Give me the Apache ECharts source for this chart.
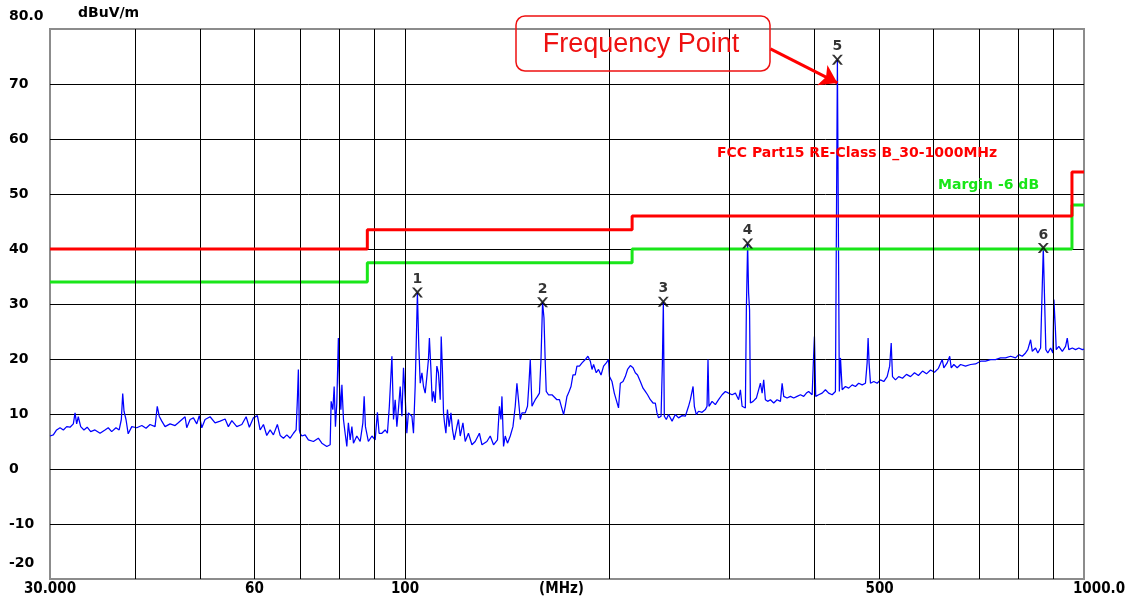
<!DOCTYPE html>
<html><head><meta charset="utf-8">
<script src="https://cdn.jsdelivr.net/npm/echarts@6/dist/echarts.min.js"></script>
<style>html,body{margin:0;padding:0;background:#fff}#c{width:1128px;height:603px}</style>
</head><body><div id="c"></div>
<script>
// ---- spectrum trace (MHz, dBuV/m) ----
const traceFreq = [30.00,30.34,30.68,31.04,31.39,31.75,32.11,32.47,32.66,32.84,33.02,33.29,33.66,34.03,34.44,34.94,35.55,36.15,36.55,36.98,37.52,37.93,38.21,38.39,38.56,38.82,39.11,39.59,40.26,40.96,41.55,42.12,42.84,43.16,43.45,43.83,44.32,45.08,45.85,46.35,
46.64,47.43,47.70,48.25,48.79,49.35,49.77,50.20,50.76,51.63,52.51,53.42,54.33,54.93,55.58,56.52,57.50,58.34,58.98,59.80,60.61,61.18,61.87,62.57,63.29,64.00,64.86,65.48,66.21,66.97,67.74,68.50,69.12,69.42,69.65,69.88,
70.07,70.48,71.26,72.05,73.30,74.53,75.42,76.70,77.58,77.84,78.29,78.64,78.98,79.35,79.77,80.03,80.45,80.73,81.16,81.62,82.09,82.52,83.03,83.51,83.96,84.92,85.89,86.68,87.06,87.44,88.31,89.38,90.37,91.06,91.58,92.45,93.48,94.20,94.82,95.65,96.17,96.72,97.27,97.78,98.38,98.95,99.48,100.05,100.62,101.15,102.36,102.91,103.50,103.85,104.29,104.78,
105.29,105.90,106.47,107.08,107.69,108.26,108.62,109.18,109.66,110.14,110.77,111.40,111.99,112.68,113.06,113.56,113.94,114.33,114.87,115.47,116.13,116.85,117.48,118.16,119.23,119.86,120.59,121.70,122.64,123.99,125.47,126.87,128.69,129.81,132.00,133.51,135.01,136.82,137.73,138.45,138.92,139.67,140.47,141.55,142.89,144.20,145.32,146.15,146.92,147.82,148.68,150.33,151.49,152.20,152.92,153.81,154.63,155.52,156.71,157.75,158.58,159.43,160.19,160.89,161.43,162.66,
164.61,165.49,167.39,168.83,169.89,171.21,172.19,173.17,174.08,175.57,176.76,178.13,179.14,180.68,182.25,184.28,185.95,187.45,188.54,189.55,191.27,192.74,194.39,196.09,197.88,199.39,200.05,201.77,203.34,204.70,206.27,207.54,209.45,211.07,212.69,214.70,216.68,218.35,220.02,222.11,224.15,225.89,227.62,229.78,231.89,233.69,235.02,236.26,238.28,239.33,240.13,240.94,242.56,244.41,247.34,250.09,252.84,255.88,258.72,261.57,
263.18,265.60,266.76,268.55,270.60,273.85,276.90,278.48,279.40,280.33,283.30,286.46,289.61,293.08,296.34,299.61,303.20,306.57,309.95,311.85,313.66,317.15,318.21,319.58,320.64,321.70,322.62,325.59,329.20,331.72,333.75,335.69,337.49,339.42,342.03,345.27,349.14,353.14,357.19,359.26,361.19,365.33,369.52,373.66,377.94,382.27,386.55,390.07,393.05,397.76,399.11,400.85,402.59,406.62,411.49,416.08,420.66,425.70,430.44,431.87,433.31,434.75,436.19,
437.85,440.39,445.29,450.20,455.59,460.66,465.73,471.32,476.57,479.28,480.88,482.47,484.77,490.20,495.82,501.50,507.12,512.93,517.35,520.06,522.34,527.63,533.44,540.37,547.67,555.24,562.79,570.34,578.32,586.13,594.24,602.32,610.40,618.32,621.64,628.77,634.18,637.50,643.09,650.47,657.92,669.10,680.63,692.20,704.12,716.09,728.43,740.81,753.57,766.38,779.58,792.83,801.56,811.17,820.20,826.49,834.33,839.17,848.51,855.02,863.13,866.93,871.07,874.87,878.67,884.54,892.92,899.88,902.92,907.21,910.24,918.10,929.10,939.44,944.80,949.79,961.17,971.88,982.58,994.34,1000];
const traceLevel = [6.0,6.2,7.1,7.5,7.1,7.7,7.6,8.2,10.2,8.2,9.5,7.7,7.1,7.6,6.8,7.1,6.5,7.1,7.5,6.8,7.5,7.1,9.0,13.7,10.5,9.0,6.4,7.7,7.5,7.9,7.4,8.1,7.7,11.4,9.6,8.7,7.7,8.2,7.9,8.4,
8.5,9.5,7.5,9.0,9.3,8.2,9.7,7.5,9.0,9.5,8.4,8.7,9.1,7.7,8.8,7.7,8.1,9.5,7.6,9.3,9.7,7.1,8.1,6.1,7.1,6.2,8.1,6.1,5.6,6.2,5.6,6.5,7.1,12.7,18.1,7.1,
6.5,6.0,6.2,5.3,5.0,5.6,4.7,4.1,4.4,12.3,10.8,15.0,7.7,12.0,23.8,15.6,10.8,15.3,9.0,6.5,4.1,8.4,5.3,7.7,4.7,6.0,5.0,8.4,13.2,7.7,5.0,6.0,5.3,10.3,6.5,6.5,7.1,6.5,11.4,20.5,9.0,12.6,7.7,10.8,15.0,9.6,18.4,13.2,6.5,10.2,9.6,6.5,15.0,22.3,32.1,22.3,
15.6,17.5,15.0,13.8,16.8,19.9,23.8,18.1,12.3,14.1,12.0,18.7,17.5,12.6,24.1,17.5,10.2,8.4,6.5,10.8,7.7,10.2,7.1,5.3,7.7,9.0,6.0,8.4,5.0,6.5,4.4,5.0,6.5,4.4,5.0,6.0,4.4,5.3,11.4,9.0,13.2,4.1,6.0,4.7,6.0,7.7,11.4,15.6,12.6,9.0,10.2,10.2,11.4,15.3,19.9,11.4,12.0,12.6,13.2,13.8,19.9,30.3,27.5,19.3,14.1,13.5,
13.5,13.2,12.6,12.6,11.4,9.9,11.4,13.2,13.8,15.0,17.1,17.1,18.7,18.7,19.3,19.9,20.5,19.6,18.1,19.0,17.5,18.1,17.1,18.7,19.3,19.9,16.8,15.9,13.8,14.1,11.1,15.6,15.9,16.8,18.1,18.8,18.4,17.5,17.1,15.9,14.7,14.1,13.5,12.6,12.0,12.0,10.2,9.3,9.6,19.0,30.4,9.6,9.0,9.9,8.7,9.9,9.3,9.7,9.6,11.4,
12.6,15.0,11.4,9.9,10.5,10.3,10.8,11.4,19.9,11.4,12.3,11.7,12.6,13.5,14.1,13.8,13.5,13.8,12.6,14.4,11.4,11.1,28.9,41.0,32.0,28.9,12.0,12.3,12.9,14.4,15.6,13.8,16.2,12.6,12.3,12.6,12.0,12.6,12.3,15.6,13.2,12.9,13.2,12.9,13.2,13.5,13.2,13.8,14.1,13.5,18.4,24.1,13.2,13.5,13.8,14.4,13.8,13.5,14.1,44.1,74.4,44.1,14.1,
20.2,14.4,15.0,14.7,15.3,15.0,15.6,15.3,15.6,19.3,23.8,19.3,15.6,15.9,15.6,16.2,15.9,16.8,18.7,22.9,16.8,16.2,16.8,16.5,17.2,16.8,17.5,17.0,17.8,17.3,18.0,17.6,18.3,19.9,18.4,19.3,20.5,18.4,19.0,18.4,19.0,18.7,19.0,19.1,19.6,19.6,19.9,19.9,20.2,20.2,20.5,20.2,20.8,20.5,21.1,21.7,23.5,21.4,22.0,21.1,22.0,30.8,40.2,30.8,21.7,21.1,22.0,21.1,30.8,25.9,21.7,22.3,21.4,22.3,23.8,21.7,22.0,21.7,22.0,21.7,21.8];

// ---- limits (FCC Part15 Class B) and margin ----
const limitFreq   = [30, 88, 88, 216, 216, 960, 960, 1000];
const limitLevel  = [40, 40, 43.5, 43.5, 46, 46, 54, 54];
const marginLevel = [34, 34, 37.5, 37.5, 40, 40, 48, 48];

// ---- marked peaks ----
const peakFreq  = [104.29, 159.43, 240.13, 319.58, 433.31, 871.07];
const peakLevel = [32.1, 30.3, 30.4, 41.0, 74.4, 40.2];
const peakLabel = ['1', '2', '3', '4', '5', '6'];

// ---- axes ----
const gridFreq  = [40, 50, 60, 70, 80, 90, 100, 200, 300, 400, 500, 600, 700, 800, 900];
const xTickFreq = [30, 60, 100, 170, 500, 1000];
const xTickText = ['30.000', '60', '100', '(MHz)', '500', '1000.0'];
const yMin = -20, yMax = 80, yStep = 10;

// arrow of "Frequency Point" (from box edge to peak 5)
const arrowFrom = [345.3, 76.4];
const arrowTo   = [433.31, 70.2];

const BOLD = "'DejaVu Sans', sans-serif";
const NARROW = "'Liberation Sans Narrow', 'DejaVu Sans Condensed', sans-serif";

const chart = echarts.init(document.getElementById('c'), null, {renderer: 'canvas'});
const zip = (a, b) => a.map((v, i) => [v, b[i]]);

const option = {
  animation: false,
  backgroundColor: '#fff',
  grid: {left: 50, right: 44, top: 29, bottom: 24, show: true, borderColor: '#8c8c8c', borderWidth: 2, backgroundColor: 'transparent'},
  xAxis: {type: 'log', logBase: 10, min: 30, max: 1000,
    axisLine: {show: false}, axisTick: {show: false}, axisLabel: {show: false}, splitLine: {show: false}},
  yAxis: {type: 'value', min: yMin, max: yMax, interval: yStep,
    axisLine: {show: false}, axisTick: {show: false},
    splitLine: {show: true, showMinLine: false, showMaxLine: false, lineStyle: {color: '#000', width: 1}},
    axisLabel: {show: true, showMinLabel: true, showMaxLabel: true, align: 'left', margin: 41,
      color: '#000', fontFamily: BOLD, fontWeight: 'bold', fontSize: 14,
      formatter: v => v === yMax ? '{t|80.0}' : (v === yMin ? '{b|' + v + '}' : String(v)),
      rich: {
        t: {padding: [0, 0, 25, 0], color: '#000', fontFamily: BOLD, fontWeight: 'bold', fontSize: 14},
        b: {padding: [0, 0, 32, 0], color: '#000', fontFamily: BOLD, fontWeight: 'bold', fontSize: 14}
      }}},
  series: [
    { // vertical grid lines
      type: 'line', z: 1, silent: true, data: [[30, yMin]], symbol: 'none', lineStyle: {opacity: 0},
      markLine: {silent: true, symbol: ['none', 'none'], animation: false,
        lineStyle: {color: '#000', width: 1, type: 'solid'},
        label: {show: false},
        emphasis: {disabled: true},
        data: gridFreq.map(f => ({xAxis: f}))}
    },
    { // x tick labels
      type: 'line', z: 1, silent: true, data: [[30, yMin]], symbol: 'none', lineStyle: {width: 0},
      markLine: {silent: true, symbol: ['none', 'none'], animation: false,
        lineStyle: {color: 'rgba(0,0,0,0)', width: 0, type: 'solid'},
        emphasis: {disabled: true},
        label: {show: true, position: 'start', distance: 3, formatter: '{b}', color: '#000',
          fontFamily: NARROW, fontWeight: 'bold', fontSize: 15},
        data: xTickFreq.map((f, i) => ({
          xAxis: f, name: xTickText[i],
          label: f === 1000 ? {padding: [0, 0, 0, 30]} : {}
        }))}
    },
    {
      type: 'line', name: 'trace', z: 3, data: zip(traceFreq, traceLevel), symbol: 'none',
      lineStyle: {color: '#0000ff', width: 1.25}, silent: true
    },
    {
      type: 'line', name: 'margin', z: 4, data: zip(limitFreq, marginLevel), symbol: 'none',
      lineStyle: {color: '#19e619', width: 3}, silent: true
    },
    {
      type: 'line', name: 'limit', z: 5, data: zip(limitFreq, limitLevel), symbol: 'none',
      lineStyle: {color: '#ff0000', width: 3}, silent: true,
      markLine: {silent: true, symbol: ['none', 'arrow'], symbolSize: 17,
        lineStyle: {color: '#ff0000', width: 3, type: 'solid'}, label: {show: false},
        data: [[{coord: arrowFrom}, {coord: arrowTo}]]}
    },
    {
      type: 'scatter', name: 'peaks', z: 6, data: zip(peakFreq, peakLevel),
      symbol: 'path://M0,0 L2.2,0 L5,3.4 L7.8,0 L10,0 L6.2,4.8 L10,10 L7.8,10 L5,6.4 L2.2,10 L0,10 L3.8,4.8 Z',
      symbolSize: [11, 10], itemStyle: {color: '#000'},
      label: {show: true, position: 'top', distance: 1, color: '#000', fontFamily: BOLD, fontWeight: 'bold', fontSize: 14,
        formatter: p => peakLabel[p.dataIndex]}
    }
  ],
  graphic: [
    {type: 'text', left: 78, top: 6, style: {text: 'dBuV/m', fill: '#000', font: "bold 14px 'DejaVu Sans'"}},
    {type: 'rect', shape: {x: 516, y: 16, width: 254, height: 55, r: 9}, style: {fill: 'none', stroke: '#ee1111', lineWidth: 1.5}, z: 20},
    {type: 'text', x: 641, y: 45, style: {text: 'Frequency Point', fill: '#ee1111', font: "27px 'Liberation Sans'", align: 'center', verticalAlign: 'middle'}, z: 20},
    {type: 'text', left: 717, top: 146, style: {text: 'FCC Part15 RE-Class B_30-1000MHz', fill: '#ff0000', font: "bold 14px 'DejaVu Sans'"}, z: 20},
    {type: 'text', left: 938, top: 178, style: {text: 'Margin -6 dB', fill: '#19e619', font: "bold 14px 'DejaVu Sans'"}, z: 20}
  ]
};
chart.setOption(option);
</script>
</body></html>
